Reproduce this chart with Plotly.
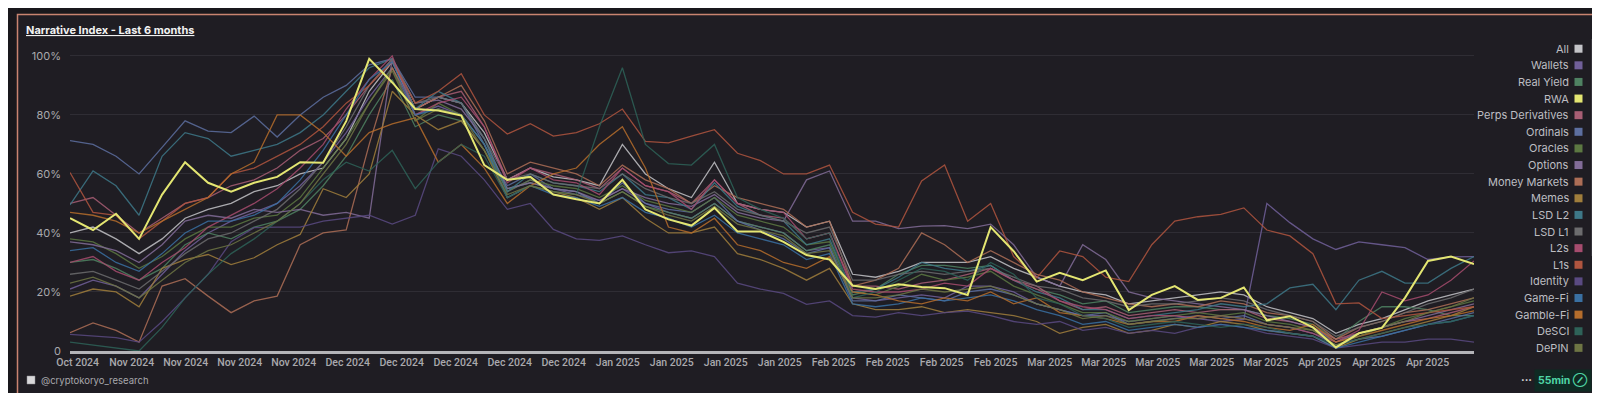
import pandas as pd
import plotly.graph_objects as go

# ---------------- data ----------------
dates = pd.date_range("2024-10-26", "2025-04-26", periods=62)
tick_dates = pd.date_range("2024-10-27", periods=26, freq="7D")
y_tickvals = [0, 20, 40, 60, 80, 100]
y_ticktext = ["0", "20%", "40%", "60%", "80%", "100%"]

categories = ["All", "Wallets", "Real Yield", "RWA", "Perps Derivatives", "Ordinals",
              "Oracles", "Options", "Money Markets", "Memes", "LSD L2", "LSD L1", "L2s",
              "L1s", "Identity", "Game-Fi", "Gamble-Fi", "DeSCI", "DePIN"]

all_idx = [40, 42, 38, 33, 38, 45, 48, 50, 54, 56, 60, 62, 72, 88, 98, 82, 86, 84, 74, 58,
           62, 59, 58, 56, 70, 60, 55, 52, 64, 50, 48, 47, 42, 44, 26, 25, 27, 30, 30, 30,
           32, 28, 25, 22, 20, 19, 16, 17, 18, 19, 20, 19, 15, 13, 11, 6, 9, 11, 14, 17, 19, 21]
wallets = [21, 24, 22, 18, 26, 34, 40, 44, 47, 50, 56, 64, 74, 86, 96, 80, 83, 80, 70, 54,
           58, 55, 53, 51, 55, 50, 47, 45, 50, 44, 42, 40, 34, 35, 18, 17, 18, 19, 18, 22,
           22, 20, 16, 14, 12, 12, 10, 11, 12, 11, 10, 10.7, 50, 43.5, 38, 34.4, 37, 36, 35, 31, 31.9, 32]
real_yield = [30, 31, 28, 24, 28, 36, 40, 38, 42, 44, 48, 56, 66, 80, 92, 76, 80, 78, 68, 55,
              57, 55, 54, 50, 54, 49, 47, 45, 50, 44, 42, 40, 34, 36, 19, 21, 26, 29, 29, 28,
              29, 24, 21, 19, 16, 17, 13, 14, 15, 15, 14, 14, 12, 11, 9, 4, 10, 15, 15, 14, 12, 12]
rwa = [45, 41, 46.5, 38, 53, 64, 57, 54, 57, 59, 64, 63.8, 77.9, 99, 91, 82, 81.5, 79.8, 63, 58,
       59, 53, 51.4, 50, 58, 48, 44.6, 42.5, 48.5, 40.5, 40.5, 37, 32.5, 31, 22.2, 21, 22.6, 21.7, 21.3, 19,
       42, 33.8, 23.5, 26.5, 24, 27.3, 13.9, 19, 22, 17.3, 18, 21.5, 10.4, 11.8, 8, 1.2, 6, 7.8, 18, 30.5, 32, 29.5]
perps = [50, 52, 46, 40, 45, 50, 52, 56, 58, 62, 68, 72, 80, 90, 99, 82, 86, 88, 76, 58,
         62, 60, 58, 55, 62, 56, 54, 50, 58, 50, 46, 45, 38, 40, 22, 22, 21, 23, 24, 26,
         28, 24, 22, 17, 14, 15, 12, 13, 14, 13, 14, 14, 11, 10, 8, 4, 6, 8, 10, 11, 13, 15]
ordinals = [71.3, 70, 66, 60, 69, 78, 74.5, 74, 79.6, 72.5, 80, 86, 90, 97, 99, 86, 86, 84, 70, 56,
            60, 55, 54, 50, 57, 50, 48, 47, 52, 44, 41, 38, 33, 35, 17, 17, 19, 18, 17, 20,
            21, 19, 16, 14, 12, 13, 9, 10, 11, 12, 11, 12, 9, 8, 6, 2, 4, 5, 7, 9, 11, 13]
oracles = [38, 37, 33, 28, 32, 38, 42, 42, 45, 46, 52, 62, 72, 84, 96, 78, 84, 80, 70, 54,
           58, 56, 55, 52, 56, 51, 49, 47, 52, 46, 44, 42, 36, 37, 20, 19, 22, 26, 24, 25,
           27, 22, 19, 16, 13, 13, 10, 11, 12, 13, 12, 13, 10, 9, 7, 3, 6, 8, 11, 13, 15, 17]
options = [37, 36, 34, 30, 36, 44, 46, 45, 48, 47, 48, 46, 47, 45, 99, 84, 85, 82, 72, 55,
           57, 55, 54, 51, 55, 52, 50, 49, 53, 47, 45, 44, 58, 61, 44, 44, 41.5, 42.3, 42.5, 41.5,
           43, 36, 25, 22, 36, 31, 20, 18, 17, 16, 15, 14, 12, 10, 8, 3, 6, 8, 10, 12, 14, 16]
money_markets = [6.2, 9.5, 7, 3, 22, 24.5, 18.6, 13, 17, 18.6, 36, 40, 41, 70, 96, 82, 86, 90, 78, 60,
                 64, 62, 60, 56, 63, 58, 55, 50, 56, 52, 50, 48, 42, 44, 22, 24, 28, 40, 36, 30,
                 34, 30, 26, 24, 20, 18, 16, 15, 16, 15, 17, 16, 13, 12, 10, 4, 8, 10, 13, 14, 16, 18]
memes = [18.6, 21, 20, 15, 28, 31, 32.7, 29.3, 31.6, 36, 39.5, 55, 52, 60, 88, 80, 75, 78, 68, 52,
         56, 54, 52, 48, 52, 45, 40, 40, 42, 33, 31, 28, 24, 28, 16, 14, 14, 15, 13, 14,
         13, 12, 10, 6, 8, 9, 6, 7, 9, 8, 10, 9, 7, 6, 5, 1, 4, 6, 8, 10, 12, 15]
lsd_l2 = [49.5, 61, 56, 46, 66, 74, 72, 66, 68, 70, 74, 80, 88, 96, 99, 82, 88, 84, 72, 54,
          60, 57, 56, 54, 60, 53, 52, 48, 57, 49, 46, 44, 36, 38, 20, 21, 25, 30, 28, 27,
          29, 24, 20, 18, 14, 14, 11, 12, 13, 14, 16, 15, 16, 21.4, 22.6, 14, 24, 27, 23, 23, 28, 32]
lsd_l1 = [26, 27, 24, 21, 27, 33, 38, 40, 44, 48, 55, 64, 76, 90, 99, 84, 86, 84, 72, 58,
          60, 57, 56, 55, 60, 55, 52, 50, 54, 48, 46, 44, 40, 42, 24, 24, 26, 27, 26, 27,
          28, 25, 22, 21, 18, 17, 15, 16, 16, 17, 18, 17, 14, 12, 10, 5, 8, 10, 13, 16, 18, 21]
l2s = [30, 32, 27, 24, 30, 35, 42, 46, 50, 55, 62, 70, 82, 92, 100, 80, 84, 86, 76, 57,
       62, 58, 57, 53, 62, 56, 54, 48, 58, 50, 48, 47, 38, 40, 21, 20, 20, 21, 23, 22,
       28, 24, 21, 17, 15, 14, 11, 12, 12, 11, 12, 11, 9, 8, 6, 3, 7, 20, 17, 19, 24, 30.5]
l1s = [60.5, 47, 46, 38, 44, 50, 52, 60, 62, 66, 70, 76, 84, 90, 98, 84, 88, 94, 80, 73.5,
       77, 72.8, 74, 77, 82, 71, 70.5, 72.8, 75, 67, 64.5, 60, 60, 63, 47, 43, 42, 57.6, 63, 44,
       50, 32, 24.8, 33.9, 32, 25, 23.5, 36, 44, 45.5, 46.3, 48.5, 41, 39, 33, 16, 16.3, 11, 12, 13, 14, 15]
identity = [5.6, 5, 4.5, 3, 10, 18, 26, 37, 41.8, 42, 42, 44, 45, 46, 43, 46, 68.5, 66, 58, 48,
            50, 41.2, 38, 37.5, 39, 36, 33.3, 33.9, 32, 23, 21, 19.5, 15.8, 17, 12, 11.5, 13, 12, 13, 13.5,
            12, 10, 9, 10, 7, 8, 6, 7, 6, 8, 9, 8, 6, 5, 4, 1, 2, 3, 3, 4, 4, 3]
game_fi = [34, 35, 30, 27, 33, 40, 44, 44, 46, 50, 58, 68, 80, 92, 98, 80, 82, 80, 70, 52,
           56, 53, 52, 49, 52, 47, 45, 42, 46, 40, 38, 36, 31, 33, 16, 15, 16, 18, 17, 18,
           19, 17, 14, 12, 9, 10, 7, 8, 9, 8, 9, 8, 7, 6, 5, 1, 3, 5, 7, 9, 10, 12]
gamble_fi = [47, 46, 44, 40, 44, 48, 52, 60, 64, 80, 80, 74, 66, 74, 77, 79, 64, 70, 62, 50,
             56, 60, 62, 70, 76, 62, 42, 40, 45, 36, 34, 30, 28, 32, 20, 19, 17, 16, 18, 17,
             20, 16, 18, 13, 12, 11, 9, 10, 10, 12, 11, 10, 8, 7, 9, 3, 5, 7, 9, 11, 12, 13.6]
desci = [3, 2, 1, 0, 8, 18, 26, 33, 38, 44, 50, 58, 64, 61, 68, 55, 64, 70, 66, 52,
         56, 54, 53, 76, 96, 70, 63.5, 63, 70, 52, 48, 45, 38, 40, 18, 20, 24, 28, 27, 24,
         30, 26, 18, 16, 12, 11, 8, 9, 10, 9, 8, 9, 8, 6, 5, 2, 4, 6, 8, 9, 10, 12]
depin = [23, 25, 22, 18, 24, 30, 34, 36, 40, 44, 50, 60, 70, 84, 95, 78, 82, 80, 68, 53,
         56, 54, 53, 50, 54, 49, 46, 44, 49, 43, 41, 39, 33, 34, 18, 18, 19, 21, 20, 21,
         22, 19, 16, 14, 11, 12, 9, 10, 11, 11, 12, 11, 9, 8, 7, 2, 5, 8, 10, 13, 15, 18]

series = {
    "All": all_idx, "Wallets": wallets, "Real Yield": real_yield, "RWA": rwa,
    "Perps Derivatives": perps, "Ordinals": ordinals, "Oracles": oracles, "Options": options,
    "Money Markets": money_markets, "Memes": memes, "LSD L2": lsd_l2, "LSD L1": lsd_l1,
    "L2s": l2s, "L1s": l1s, "Identity": identity, "Game-Fi": game_fi, "Gamble-Fi": gamble_fi,
    "DeSCI": desci, "DePIN": depin,
}

colors = {
    "All": "#c4c4c8", "Wallets": "#71609a", "Real Yield": "#4f8262", "RWA": "#e4e672",
    "Perps Derivatives": "#a85e74", "Ordinals": "#5d6fa0", "Oracles": "#5c7842",
    "Options": "#826c98", "Money Markets": "#ad6e56", "Memes": "#a07e3c",
    "LSD L2": "#3e7888", "LSD L1": "#6c6c6e", "L2s": "#a64c6e", "L1s": "#b0553f",
    "Identity": "#5a4a82", "Game-Fi": "#3a70a2", "Gamble-Fi": "#b56d2c",
    "DeSCI": "#2e6258", "DePIN": "#6e7544",
}

# ---------------- figure ----------------
W, H = 1600, 393
L, R, T, B = 62, 1466, 42, 343  # plot area in px


def px(x):
    return (x - L) / (R - L)


def py(y):
    return (B - y) / (B - T)


fig = go.Figure()
draw_order = [c for c in categories if c != "RWA"] + ["RWA"]
for name in draw_order:
    fig.add_trace(go.Scatter(
        x=dates, y=series[name], mode="lines", name=name,
        line=dict(color=colors[name], width=2 if name == "RWA" else 1.3),
        opacity=1 if name == "RWA" else 0.85,
        showlegend=False, hoverinfo="skip",
    ))

font_family = "Inter, Roboto, sans-serif"
tick_family = "Roboto, Inter, sans-serif"
shapes = []
annotations = []

# outer card with salmon border
shapes.append(dict(type="rect", xref="paper", yref="paper", layer="below",
                   x0=px(9.5), x1=px(1588.5), y0=py(387.5), y1=py(6.5),
                   line=dict(color="#c98470", width=1.5), fillcolor="#1f1d23"))

# title
annotations.append(dict(text="<b><u>Narrative Index - Last 6 months</u></b>", xref="paper", yref="paper",
                        x=px(16), y=py(22), xanchor="left", yanchor="middle", showarrow=False,
                        font=dict(family=font_family, size=11, color="#f2f2f2")))

# legend (manual, text left of square swatch)
for i, name in enumerate(categories):
    yc = 40.7 + 16.62 * i
    annotations.append(dict(text=name, xref="paper", yref="paper", x=px(1563), y=py(yc),
                            xanchor="right", yanchor="middle", showarrow=False,
                            font=dict(family=font_family, size=11, color="#bdbdc2")))
    shapes.append(dict(type="rect", xref="paper", yref="paper",
                       x0=px(1566.5), x1=px(1574.5), y0=py(yc + 4), y1=py(yc - 4),
                       line=dict(width=0), fillcolor=colors[name]))

# scrollbar
shapes.append(dict(type="rect", xref="paper", yref="paper",
                   x0=px(1583.5), x1=px(1586.5), y0=py(248), y1=py(31),
                   line=dict(width=0), fillcolor="#4d4c52"))

# watermark
shapes.append(dict(type="rect", xref="paper", yref="paper",
                   x0=px(19), x1=px(27), y0=py(376), y1=py(368),
                   line=dict(color="#8d8d90", width=0.5), fillcolor="#d8d8da"))
annotations.append(dict(text="@cryptokoryo_research", xref="paper", yref="paper",
                        x=px(31), y=py(372), xanchor="left", yanchor="middle", showarrow=False,
                        font=dict(family=font_family, size=9.5, color="#a8a8ac")))

# bottom-right status
annotations.append(dict(text="<b>···</b>", xref="paper", yref="paper",
                        x=px(1518), y=py(372), xanchor="center", yanchor="middle", showarrow=False,
                        font=dict(family=font_family, size=11, color="#e6e6e6")))
annotations.append(dict(text="<b>55min ⊘</b>", xref="paper", yref="paper",
                        x=px(1555), y=py(372), xanchor="center", yanchor="middle", showarrow=False,
                        bgcolor="#0f2a23", borderpad=3,
                        font=dict(family=font_family, size=10.5, color="#4fd6a6")))

fig.update_layout(
    width=W, height=H,
    margin=dict(l=L, r=W - R, t=T, b=H - B),
    paper_bgcolor="#19181c", plot_bgcolor="rgba(0,0,0,0)",
    shapes=shapes, annotations=annotations, showlegend=False,
    font=dict(family=font_family, color="#a6a6aa"),
)
fig.update_xaxes(
    type="date", range=[dates[0], dates[-1]],
    tickvals=tick_dates, tickformat="%b %Y", ticks="", showgrid=False, tickangle=0,
    showline=True, linecolor="#b4b4b8", linewidth=2.5, zeroline=False,
    tickfont=dict(family=tick_family, size=10.5, color="#a9a9ad", weight=500), ticklabelstandoff=0,
)
fig.update_yaxes(
    range=[0, 102], tickvals=y_tickvals, ticktext=y_ticktext, ticks="",
    showgrid=True, gridcolor="#2f2d34", gridwidth=1, zeroline=False, showline=False,
    tickfont=dict(family=font_family, size=11, color="#a9a9ad"), ticklabelstandoff=8,
)

fig.write_html("out.html")
